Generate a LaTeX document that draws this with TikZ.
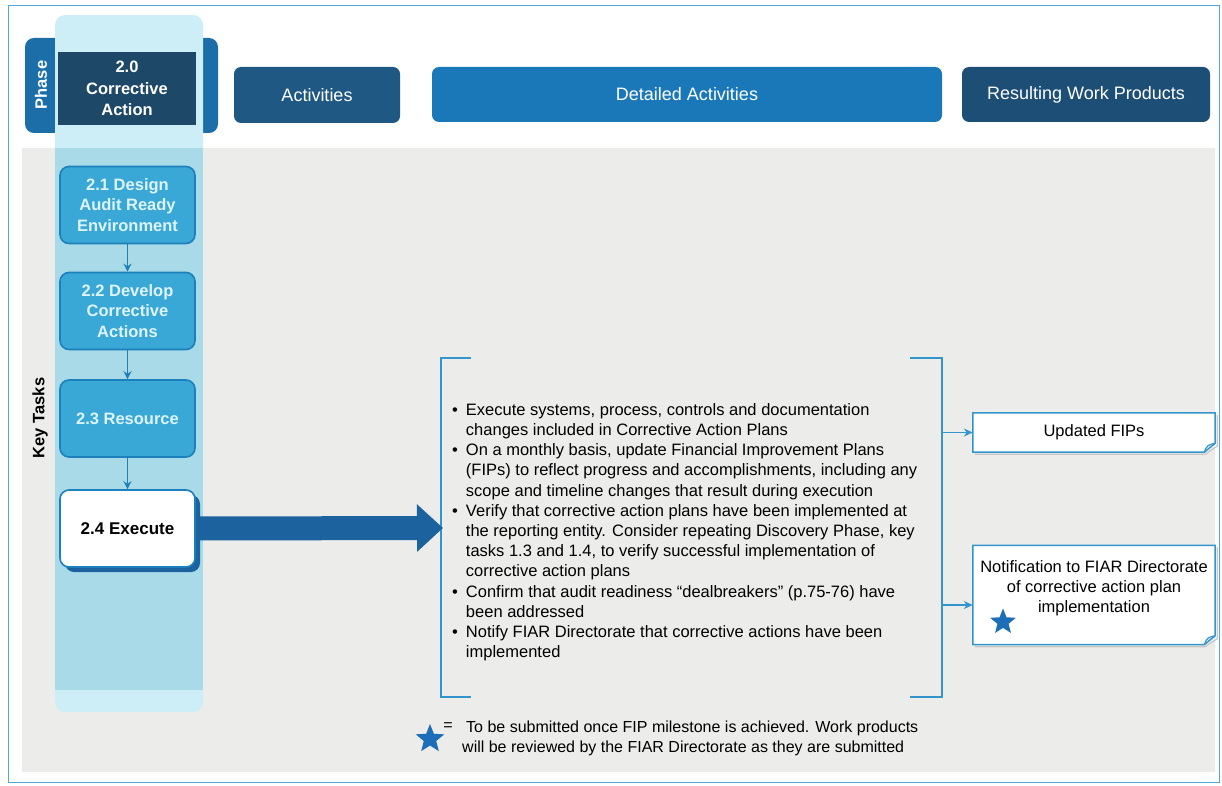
\documentclass[tikz,border=0pt]{standalone}
\usepackage{fontspec}
\setmainfont{Liberation Sans}
\usetikzlibrary{arrows.meta,shapes.geometric,calc}
\definecolor{frameblue}{RGB}{80,170,215}
\definecolor{panelgray}{RGB}{236,236,234}
\definecolor{colcyan}{RGB}{168,218,232}
\definecolor{colcyanlt}{RGB}{205,238,246}
\definecolor{phaseblue}{RGB}{27,110,168}
\definecolor{navy}{RGB}{30,72,104}
\definecolor{actblue}{RGB}{32,88,132}
\definecolor{detblue}{RGB}{26,120,184}
\definecolor{resblue}{RGB}{28,78,118}
\definecolor{taskfill}{RGB}{58,168,214}
\definecolor{taskline}{RGB}{28,128,188}
\definecolor{tasktext}{RGB}{222,244,252}
\definecolor{bigarrow}{RGB}{28,98,158}
\definecolor{brk}{RGB}{50,150,205}
\definecolor{starblue}{RGB}{28,110,185}
\begin{document}
\begin{tikzpicture}[x=1pt,y=-1pt,
  header/.style={rounded corners=7pt, text=white, font=\fontsize{18}{21}\selectfont, inner sep=0pt},
  task/.style={draw=taskline, line width=1.6pt, fill=taskfill, rounded corners=9pt,
    minimum width=135pt, minimum height=77pt, align=center, text=tasktext,
    font=\bfseries\fontsize{16.5}{20.5}\selectfont, inner sep=0pt},
  flow/.style={draw=taskline, line width=1.2pt, -{Stealth[length=8pt,width=8pt]}},
  product/.style={minimum width=242pt, inner sep=0pt},
  prodline/.style={draw=brk, line width=1.5pt, fill=white},
  prodtext/.style={align=center, inner sep=0pt, font=\fontsize{16.5}{20}\selectfont},
  bracketline/.style={draw=brk, line width=1.6pt},
  smallarrow/.style={draw=brk, line width=1.4pt, -{Stealth[length=9pt,width=8pt]}},
  bluestar/.style={star, star points=5, star point ratio=2.3, fill=starblue, draw=none, inner sep=0pt}
]
\useasboundingbox (0,0) rectangle (1222,786);

% outer frame and grey panel
\draw[frameblue, line width=0.8pt] (8,5) rectangle (1219,782);
\fill[panelgray] (22,148) rectangle (1215,772);

% phase header band
\node[rounded corners=9pt, fill=phaseblue, minimum width=193pt, minimum height=95pt, inner sep=0pt] (phasebg) at (121.5,85.5) {};

% highlighted column of the current phase
\fill[colcyanlt, rounded corners=10pt] (55,15) rectangle (203,712);
\fill[colcyan] (55,148) rectangle (203,690);

\node[fill=navy, minimum width=138pt, minimum height=73pt, text=white, align=center,
  font=\bfseries\fontsize{16.5}{21.5}\selectfont, inner sep=0pt] (phase) at (127,88.5) {2.0\\Corrective\\Action};
\node[rotate=90, text=white, font=\bfseries\fontsize{16.5}{19}\selectfont] (phaselbl) at (41,85) {Phase};
\node[rotate=90, font=\bfseries\fontsize{16.5}{19}\selectfont] (keytasks) at (40,418) {Key Tasks};

% column headers
\node[header, fill=actblue, minimum width=166pt, minimum height=56pt] (act) at (317,95) {Activities};
\node[header, fill=detblue, minimum width=510pt, minimum height=55pt] (det) at (687,94.5) {Detailed Activities};
\node[header, fill=resblue, minimum width=248pt, minimum height=55pt] (res) at (1086,94.5) {Resulting Work Products};

% key tasks
\node[task] (t1) at (127.5,205) {2.1 Design\\Audit Ready\\Environment};
\node[task] (t2) at (127.5,311) {2.2 Develop\\Corrective\\Actions};
\node[task] (t3) at (127.5,418.5) {2.3 Resource};
\fill[bigarrow, rounded corners=9pt] (65,495) rectangle (200,572);
\node[task, fill=white, text=black, font=\bfseries\fontsize{17}{20.5}\selectfont] (t4) at (127.5,528.5) {2.4 Execute};

\draw[flow] (t1) -- (t2);
\draw[flow] (t2) -- (t3);
\draw[flow] (t3) -- (t4);

% detailed activities
\coordinate (brL) at (443,528);
\coordinate (brR) at (942,358);
\draw[bracketline] (471,358) -- (441,358) -- (441,697) -- (471,697);
\draw[bracketline] (910,358) -- (942,358) -- (942,697) -- (910,697);

\node[anchor=north west, inner sep=0pt, font=\fontsize{16.5}{20.2}\selectfont] (detail) at (452,401) {%
\begin{tabular}{@{}l@{\hspace{8pt}}l@{}}
\textbullet & Execute systems, process, controls and documentation\\
 & changes included in Corrective Action Plans\\
\textbullet & On a monthly basis, update Financial Improvement Plans\\
 & (FIPs) to reflect progress and accomplishments, including any\\
 & scope and timeline changes that result during execution\\
\textbullet & Verify that corrective action plans have been implemented at\\
 & the reporting entity. Consider repeating Discovery Phase, key\\
 & tasks 1.3 and 1.4, to verify successful implementation of\\
 & corrective action plans\\
\textbullet & Confirm that audit readiness \textquotedblleft dealbreakers\textquotedblright\ (p.75-76) have\\
 & been addressed\\
\textbullet & Notify FIAR Directorate that corrective actions have been\\
 & implemented
\end{tabular}};

\draw[bigarrow, line width=24pt, -{Triangle[length=26pt,width=46pt]}] (t4.east) -- (brL);

% resulting work products
\node[product, minimum height=39pt] (fips) at (1094,432.5) {};
\node[product, minimum height=99pt] (notif) at (1094,595) {};
\foreach \b in {fips,notif}{
  \draw[gray!45, line width=1.2pt] ([xshift=2pt,yshift=-2pt]\b.north east) -- ([xshift=2pt,yshift=6pt]\b.south east)
     -- ([xshift=-10pt,yshift=-2pt]\b.south east) -- ([xshift=2pt,yshift=-2pt]\b.south west);
  \draw[prodline] (\b.north west) -- (\b.north east) -- ([yshift=9pt]\b.south east)
     -- ([xshift=-11pt]\b.south east) -- (\b.south west) -- cycle;
  \draw[brk, line width=1.2pt] ([xshift=-11pt]\b.south east) .. controls ([xshift=-8pt,yshift=7pt]\b.south east) .. ([yshift=9pt]\b.south east);
}
\node[prodtext] (fipstext) at (fips) {Updated FIPs};
\node[prodtext] (notiftext) at (1094,588) {Notification to FIAR Directorate\\of corrective action plan\\implementation};
\node[bluestar, minimum size=27pt] (nstar) at (1003,622) {};

\draw[smallarrow] (brR |- fips.west) -- (fips.west);
\coordinate (n2) at ([yshift=-10pt]notif.west);
\draw[smallarrow] (brR |- n2) -- (n2);

% key to the star symbol
\node[bluestar, minimum size=30pt] (keystar) at (430,739) {};
\node[inner sep=0pt, font=\fontsize{16}{19}\selectfont] (eq) at (448,727) {=};
\node[anchor=west, align=left, inner sep=0pt, font=\fontsize{16}{20}\selectfont] (keytext) at (462,738)
  {\hspace{4pt}To be submitted once FIP milestone is achieved. Work products\\will be reviewed by the FIAR Directorate as they are submitted};
\end{tikzpicture}
\end{document}
